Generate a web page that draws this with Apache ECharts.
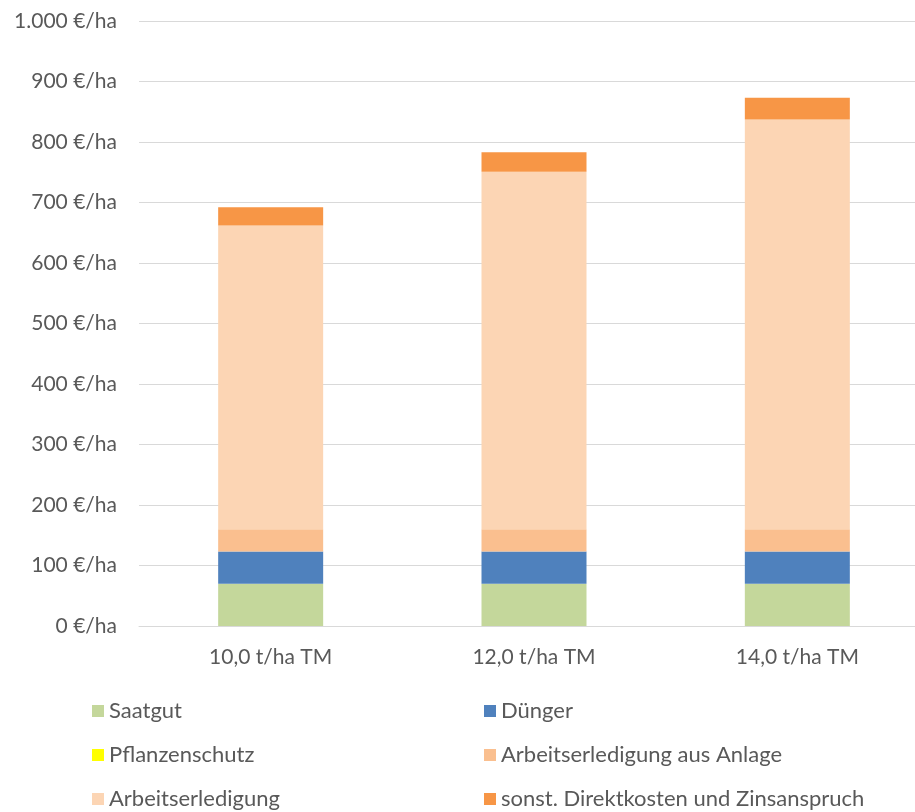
<!DOCTYPE html>
<html>
<head>
<meta charset="utf-8">
<script src="https://cdn.jsdelivr.net/npm/echarts@6/dist/echarts.min.js"></script>
<style>
  html, body { margin: 0; padding: 0; background: #ffffff; overflow: hidden; }
  /* Zeichenfläche reicht rechts etwas über das Fenster hinaus */
  #chart { width: 930px; height: 812px; }
</style>
</head>
<body>
<div id="chart"></div>
<script>
// Kosten je Hektar nach Ertragsniveau (gestapelt)
const categories = ['10,0 t/ha TM', '12,0 t/ha TM', '14,0 t/ha TM'];

const saatgut = [70, 70, 70];
const duenger = [53, 53, 53];
const pflanzenschutz = [0, 0, 0];
const arbeitAnlage = [37, 37, 37];
const arbeitserledigung = [502, 591, 677];
const sonstDirekt = [30, 32, 36];

// Achsenbeschriftung der Werteachse
const yTicks = [0, 100, 200, 300, 400, 500, 600, 700, 800, 900, 1000];
const yTickLabels = ['0 €/ha', '100 €/ha', '200 €/ha', '300 €/ha', '400 €/ha', '500 €/ha',
  '600 €/ha', '700 €/ha', '800 €/ha', '900 €/ha', '1.000 €/ha'];

const seriesDefs = [
  { name: 'Saatgut', data: saatgut, color: '#C4D79B' },
  { name: 'Dünger', data: duenger, color: '#4F81BD' },
  { name: 'Pflanzenschutz', data: pflanzenschutz, color: '#FFFF00' },
  { name: 'Arbeitserledigung aus Anlage', data: arbeitAnlage, color: '#FABF8F' },
  { name: 'Arbeitserledigung', data: arbeitserledigung, color: '#FCD5B4' },
  { name: 'sonst. Direktkosten und Zinsanspruch', data: sonstDirekt, color: '#F79646' }
];

const FONT = 'Lato, "Open Sans", sans-serif';
const chart = echarts.init(document.getElementById('chart'), null, { renderer: 'canvas' });

chart.setOption({
  animation: false,
  backgroundColor: '#ffffff',
  textStyle: { fontFamily: FONT },
  grid: { left: 139, right: 1, top: 21, bottom: 186, containLabel: false },
  legend: {
    left: 87,
    top: 694,
    width: 820,
    orient: 'horizontal',
    itemWidth: 12,
    itemHeight: 12,
    itemGap: 20,
    icon: 'rect',
    textStyle: {
      fontFamily: FONT,
      fontSize: 22,
      color: '#595959',
      width: 355,
      lineHeight: 24,
      overflow: 'none',
      padding: [0, 0, 0, 0]
    },
    data: seriesDefs.map(s => s.name)
  },
  xAxis: {
    type: 'category',
    data: categories,
    axisLine: { show: true, lineStyle: { color: '#D9D9D9', width: 1 } },
    axisTick: { show: false },
    axisLabel: { color: '#595959', fontSize: 21, fontFamily: FONT, margin: 21 }
  },
  yAxis: {
    type: 'value',
    min: 0,
    max: 1000,
    interval: 100,
    axisLine: { show: false },
    axisTick: { show: false },
    splitLine: { lineStyle: { color: '#D9D9D9', width: 1 } },
    axisLabel: {
      color: '#595959',
      fontSize: 21,
      fontFamily: FONT,
      margin: 22,
      formatter: v => yTickLabels[yTicks.indexOf(v)] ?? ''
    }
  },
  series: seriesDefs.map(s => ({
    name: s.name,
    type: 'bar',
    stack: 'kosten',
    barWidth: 105,
    data: s.data,
    itemStyle: { color: s.color }
  }))
});
</script>
</body>
</html>
